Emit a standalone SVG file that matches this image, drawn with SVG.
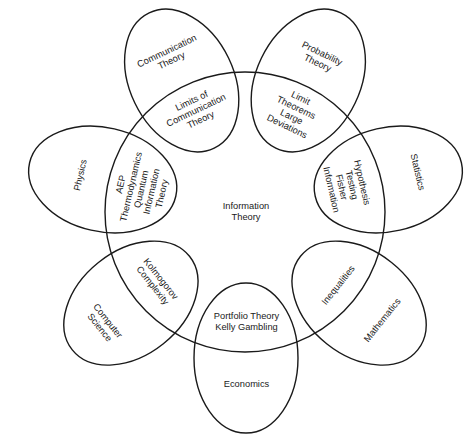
<svg xmlns="http://www.w3.org/2000/svg" width="474" height="436" viewBox="0 0 474 436">
<style>
.o{fill:none;stroke:#1a1a1a;stroke-width:1.4}
text{font-family:"Liberation Sans",Arial,sans-serif;font-size:9.3px;fill:#1a1a1a;text-anchor:middle}
</style>
<rect width="474" height="436" fill="#fff"/>
<g id="information-theory">
<circle class="o" cx="245" cy="212" r="140"/>
<text x="246" y="209">Information<tspan x="246" dy="10.5">Theory</tspan></text>
</g>
<g id="communication-theory">
<ellipse class="o" cx="0" cy="0" rx="52" ry="75" transform="translate(181.7,80.5) rotate(-25.7)"/>
<text transform="translate(169,55.5) rotate(-25.7)" y="-1.95">Communication<tspan x="0" dy="10.5">Theory</tspan></text>
</g>
<g id="probability-theory">
<ellipse class="o" cx="0" cy="0" rx="52" ry="75" transform="translate(308.3,80.5) rotate(25.7)"/>
<text transform="translate(320,58) rotate(25.7)" y="-1.95">Probability<tspan x="0" dy="10.5">Theory</tspan></text>
</g>
<g id="statistics">
<ellipse class="o" cx="0" cy="0" rx="52" ry="75" transform="translate(388.3,179.5) rotate(77.1)"/>
<text transform="translate(418,172) rotate(77.1)" y="3.3">Statistics</text>
</g>
<g id="mathematics">
<ellipse class="o" cx="0" cy="0" rx="52" ry="75" transform="translate(359.1,303.1) rotate(-51.4)"/>
<text transform="translate(382,320) rotate(-51.4)" y="3.3">Mathematics</text>
</g>
<g id="economics">
<ellipse class="o" cx="246" cy="358" rx="52" ry="75"/>
<text x="246.5" y="387">Economics</text>
</g>
<g id="computer-science">
<ellipse class="o" cx="0" cy="0" rx="52" ry="75" transform="translate(130.9,303.1) rotate(51.4)"/>
<text transform="translate(104,324) rotate(51.4)" y="-1.95">Computer<tspan x="0" dy="10.5">Science</tspan></text>
</g>
<g id="physics">
<ellipse class="o" cx="0" cy="0" rx="52" ry="75" transform="translate(102.7,179.5) rotate(-77.1)"/>
<text transform="translate(80,175) rotate(-77.1)" y="3.3">Physics</text>
</g>
<g id="limits-of-communication-theory">
<text transform="translate(196,110) rotate(-25.7)" y="-7.2">Limits of<tspan x="0" dy="10.5">Communication</tspan><tspan x="0" dy="10.5">Theory</tspan></text>
</g>
<g id="limit-theorems">
<text transform="translate(294,112) rotate(25.7)" y="-12.45">Limit<tspan x="0" dy="10.5">Theorems</tspan><tspan x="0" dy="10.5">Large</tspan><tspan x="0" dy="10.5">Deviations</tspan></text>
</g>
<g id="hypothesis-testing">
<text transform="translate(347,186) rotate(77.1)" y="-12.45">Hypothesis<tspan x="0" dy="10.5">Testing</tspan><tspan x="0" dy="10.5">Fisher</tspan><tspan x="0" dy="10.5">Information</tspan></text>
</g>
<g id="inequalities">
<text transform="translate(338,285) rotate(-51.4)" y="3.3">Inequalities</text>
</g>
<g id="portfolio-theory">
<text x="246.5" y="319">Portfolio Theory<tspan x="246.5" dy="11">Kelly Gambling</tspan></text>
</g>
<g id="kolmogorov-complexity">
<text transform="translate(157,282) rotate(51.4)" y="-1.95">Kolmogorov<tspan x="0" dy="10.5">Complexity</tspan></text>
</g>
<g id="aep">
<text transform="translate(141,189) rotate(-77.1)" y="-17.7">AEP<tspan x="0" dy="10.5">Thermodynamics</tspan><tspan x="0" dy="10.5">Quantum</tspan><tspan x="0" dy="10.5">Information</tspan><tspan x="0" dy="10.5">Theory</tspan></text>
</g>
<g id="connectors"/>
</svg>
